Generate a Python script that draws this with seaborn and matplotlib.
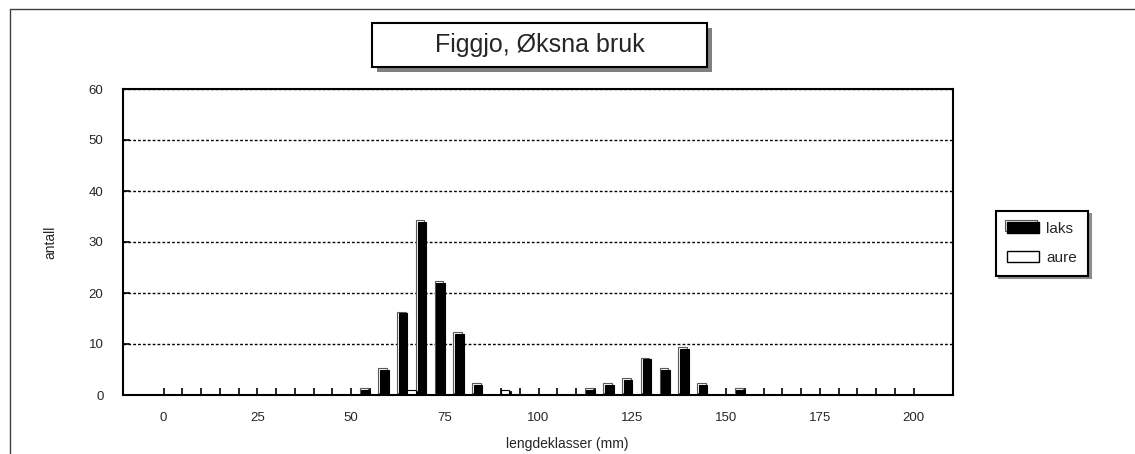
import matplotlib
matplotlib.use('Agg')
import matplotlib.pyplot as plt
import matplotlib.patches as patches
import matplotlib.patheffects as pe
from matplotlib.lines import Line2D
import pandas as pd
import seaborn as sns

# lengdeklasser (mm) og antall fisk per klasse
lengder = [0, 5, 10, 15, 20, 25, 30, 35, 40, 45, 50, 55, 60, 65, 70, 75, 80, 85, 90, 95,
           100, 105, 110, 115, 120, 125, 130, 135, 140, 145, 150, 155, 160, 165, 170, 175,
           180, 185, 190, 195, 200]
laks = [0, 0, 0, 0, 0, 0, 0, 0, 0, 0, 0, 1, 5, 16, 34, 22, 12, 2, 0, 0,
        0, 0, 0, 1, 2, 3, 7, 5, 9, 2, 0, 1, 0, 0, 0, 0,
        0, 0, 0, 0, 0]
aure = [0, 0, 0, 0, 0, 0, 0, 0, 0, 0, 0, 0, 0, 1, 0, 0, 0, 0, 1, 0,
        0, 0, 0, 0, 0, 0, 0, 0, 0, 0, 0, 0, 0, 0, 0, 0,
        0, 0, 0, 0, 0]
arter = ['laks', 'aure']
y_ticks = [0, 10, 20, 30, 40, 50, 60]
tittel = "Figgjo, Øksna bruk"


def main():
    df = pd.DataFrame({
        'lengde': lengder * 2,
        'antall': laks + aure,
        'art': ['laks'] * len(lengder) + ['aure'] * len(lengder),
    })

    sns.set_style('white')
    plt.rcParams['font.family'] = ['Liberation Sans', 'DejaVu Sans']

    W, H = 1135, 454
    fig = plt.figure(figsize=(W / 100, H / 100), dpi=100)
    ax = fig.add_axes([123 / W, 1 - 395 / H, 830 / W, 306 / H])

    sns.barplot(data=df, x='lengde', y='antall', hue='art', order=lengder,
                hue_order=arter, palette={'laks': 'black', 'aure': 'white'},
                width=0.9, edgecolor='black', linewidth=0.8, legend=False, ax=ax)

    # old excel-ish look: offset outline behind the bars
    for p in ax.patches:
        if p.get_height() == 0:
            p.set_visible(False)
            continue
        fc = p.get_facecolor()
        if fc[0] < 0.5:
            p.set_path_effects([
                pe.PathPatchEffect(offset=(-1.2, 1.2), facecolor='white',
                                   edgecolor='0.35', linewidth=0.8),
                pe.Normal()])
        else:
            p.set_path_effects([
                pe.PathPatchEffect(offset=(0.8, -0.8), facecolor='black',
                                   edgecolor='black', linewidth=0.6),
                pe.Normal()])

    ax.set_xlim(-2.16, 42.1)
    ax.set_ylim(0, 60)
    ax.set_yticks(y_ticks)
    ax.set_yticklabels([str(v) for v in y_ticks])
    ax.set_xticks(range(len(lengder)))
    ax.set_xticklabels([str(v) if v % 25 == 0 else '' for v in lengder])
    ax.tick_params(axis='x', bottom=True, direction='in', length=5, width=1.2,
                   color='black', pad=12, labelsize=9.5)
    ax.tick_params(axis='y', left=True, direction='in', length=5, width=1.2,
                   color='black', pad=14, labelsize=9.5)

    ax.yaxis.grid(True, linestyle=(0, (2, 1.5)), color='black', linewidth=1)
    ax.xaxis.grid(False)
    ax.set_axisbelow(True)
    for s in ax.spines.values():
        s.set_color('black')
        s.set_linewidth(1.5)
        s.set_visible(True)

    ax.set_xlabel('lengdeklasser (mm)', fontsize=10)
    ax.set_ylabel('antall', fontsize=10)
    ax.xaxis.set_label_coords(0.535, -0.137)
    ax.yaxis.set_label_coords(-0.0795, 0.5)

    # legend
    handles = [
        patches.Patch(facecolor='black', edgecolor='black', label='laks',
                      path_effects=[pe.PathPatchEffect(offset=(-1.2, 1.2), facecolor='white',
                                                       edgecolor='0.35', linewidth=0.8),
                                    pe.Normal()]),
        patches.Patch(facecolor='white', edgecolor='black', linewidth=1, label='aure'),
    ]
    leg = fig.legend(handles=handles, loc='upper left',
                     bbox_to_anchor=(996 / W, 1 - 211 / H), fontsize=11,
                     fancybox=False, frameon=True, edgecolor='black',
                     shadow={'color': '0.55', 'alpha': 1},
                     handlelength=2.1, handleheight=0.75, labelspacing=1.0,
                     borderpad=0.7, handletextpad=0.5, borderaxespad=0)
    leg.get_frame().set_linewidth(1.5)

    # title box with shadow
    fig.add_artist(patches.Rectangle((377 / W, 1 - 72 / H), 335 / W, 44 / H,
                                     transform=fig.transFigure, facecolor='0.5',
                                     edgecolor='none', zorder=5))
    fig.add_artist(patches.Rectangle((372 / W, 1 - 67 / H), 335 / W, 44 / H,
                                     transform=fig.transFigure, facecolor='white',
                                     edgecolor='black', linewidth=1.5, zorder=6))
    fig.text(539.5 / W, 1 - 45 / H, tittel, ha='center', va='center',
             fontsize=18, zorder=7)

    # outer chart frame (partly cut off)
    fig.add_artist(Line2D([10 / W, 1], [1 - 9 / H, 1 - 9 / H], transform=fig.transFigure,
                          color='0.25', linewidth=1))
    fig.add_artist(Line2D([10 / W, 10 / W], [0, 1 - 9 / H], transform=fig.transFigure,
                          color='0.25', linewidth=1))

    fig.savefig('out.png', dpi=100)
    plt.close()


if __name__ == '__main__':
    main()
